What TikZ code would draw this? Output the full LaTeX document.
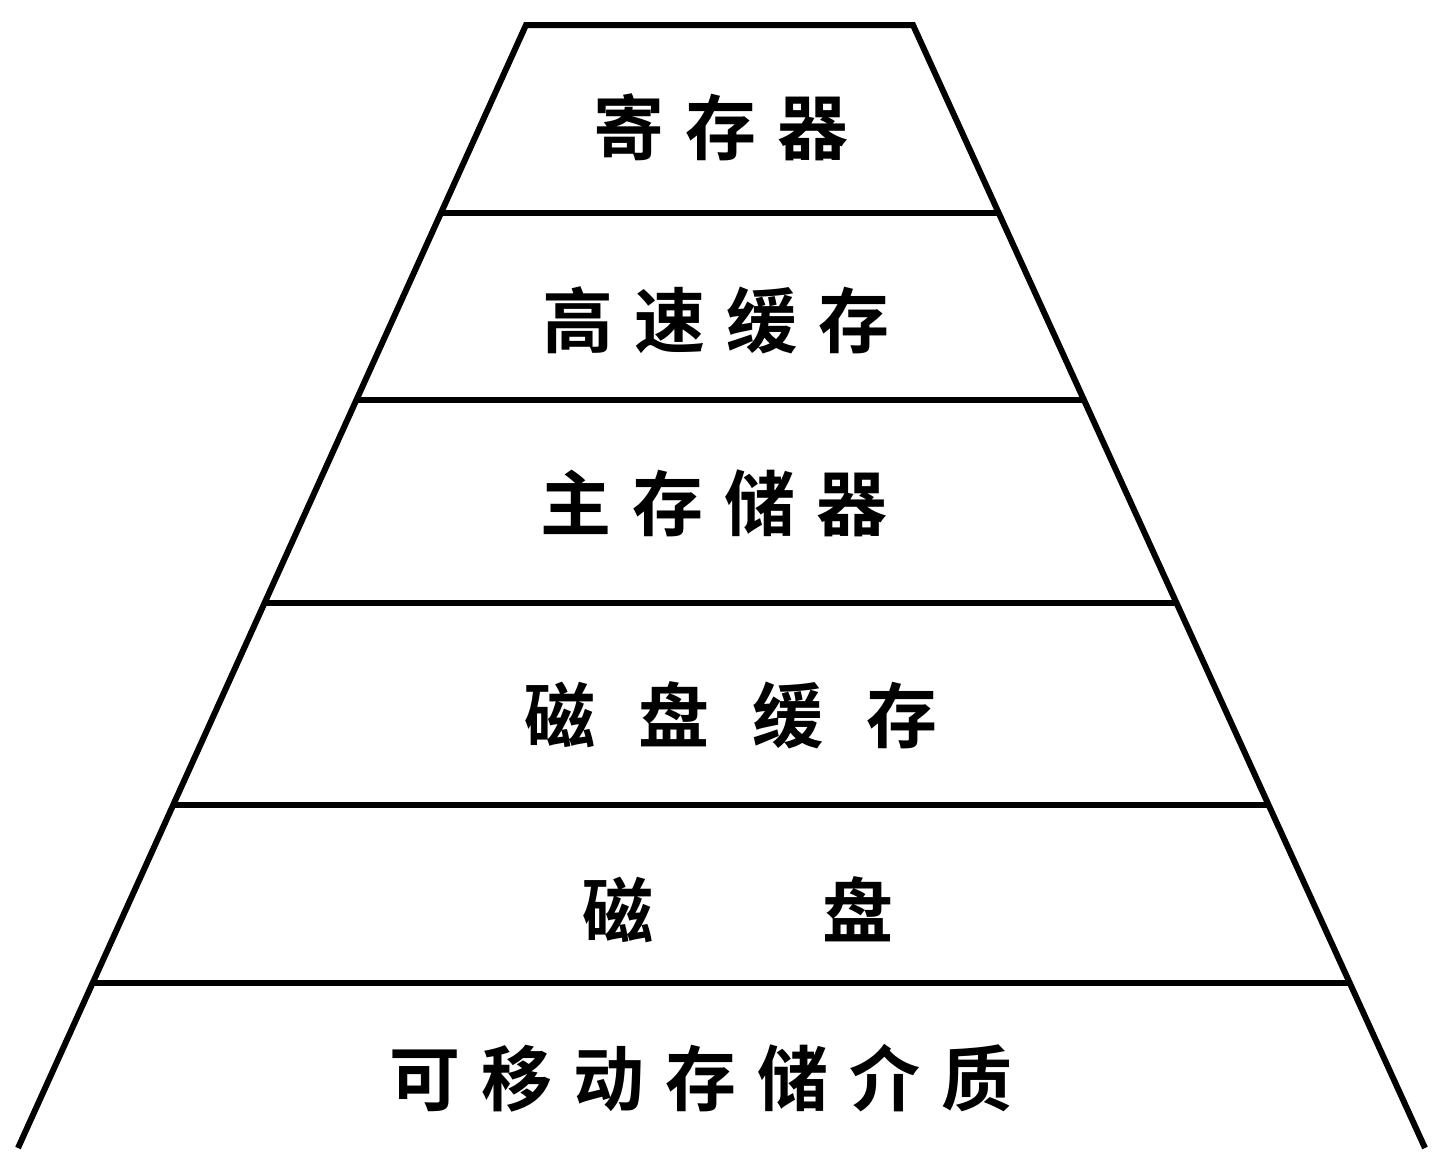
\documentclass[tikz,border=0pt]{standalone}
\usepackage{fontspec}
\newfontfamily\cjk{Noto Sans CJK SC}[BoldFont={Noto Sans CJK SC Bold}]
\begin{document}
\begin{tikzpicture}[x=1pt,y=-1pt,
  edge/.style={line width=6pt,line join=miter,black},
  lab/.style={font=\cjk\bfseries\fontsize{71}{71}\selectfont,inner sep=0pt}]
\useasboundingbox (0,0) rectangle (1440,1167);
\fill[white] (0,0) rectangle (1440,1167);
\coordinate (TL) at (526,25); \coordinate (TR) at (913,25);
\coordinate (BL) at (18,1148); \coordinate (BR) at (1425,1148);
\draw[edge] (BL) -- (TL) -- (TR) -- (BR);
\draw[edge] (441,213) -- (999,213);
\draw[edge] (356,400) -- (1084,400);
\draw[edge] (264.5,603) -- (1176.5,603);
\draw[edge] (173,805) -- (1268.6,805);
\draw[edge] (92.6,983) -- (1349.8,983);
\node[lab] (l1) at (721,127) {寄\hspace{21pt}存\hspace{21pt}器};
\node[lab] (l2) at (716,320) {高\hspace{21pt}速\hspace{21pt}缓\hspace{21pt}存};
\node[lab] (l3) at (714,503) {主\hspace{21pt}存\hspace{21pt}储\hspace{21pt}器};
\node[lab] (l4) at (731,715) {磁\hspace{43pt}盘\hspace{43pt}缓\hspace{43pt}存};
\node[lab] (l5) at (738,910) {磁\hspace{169pt}盘};
\node[lab] (l6) at (701,1078) {可\hspace{21pt}移\hspace{21pt}动\hspace{21pt}存\hspace{21pt}储\hspace{21pt}介\hspace{21pt}质};
\end{tikzpicture}
\end{document}
